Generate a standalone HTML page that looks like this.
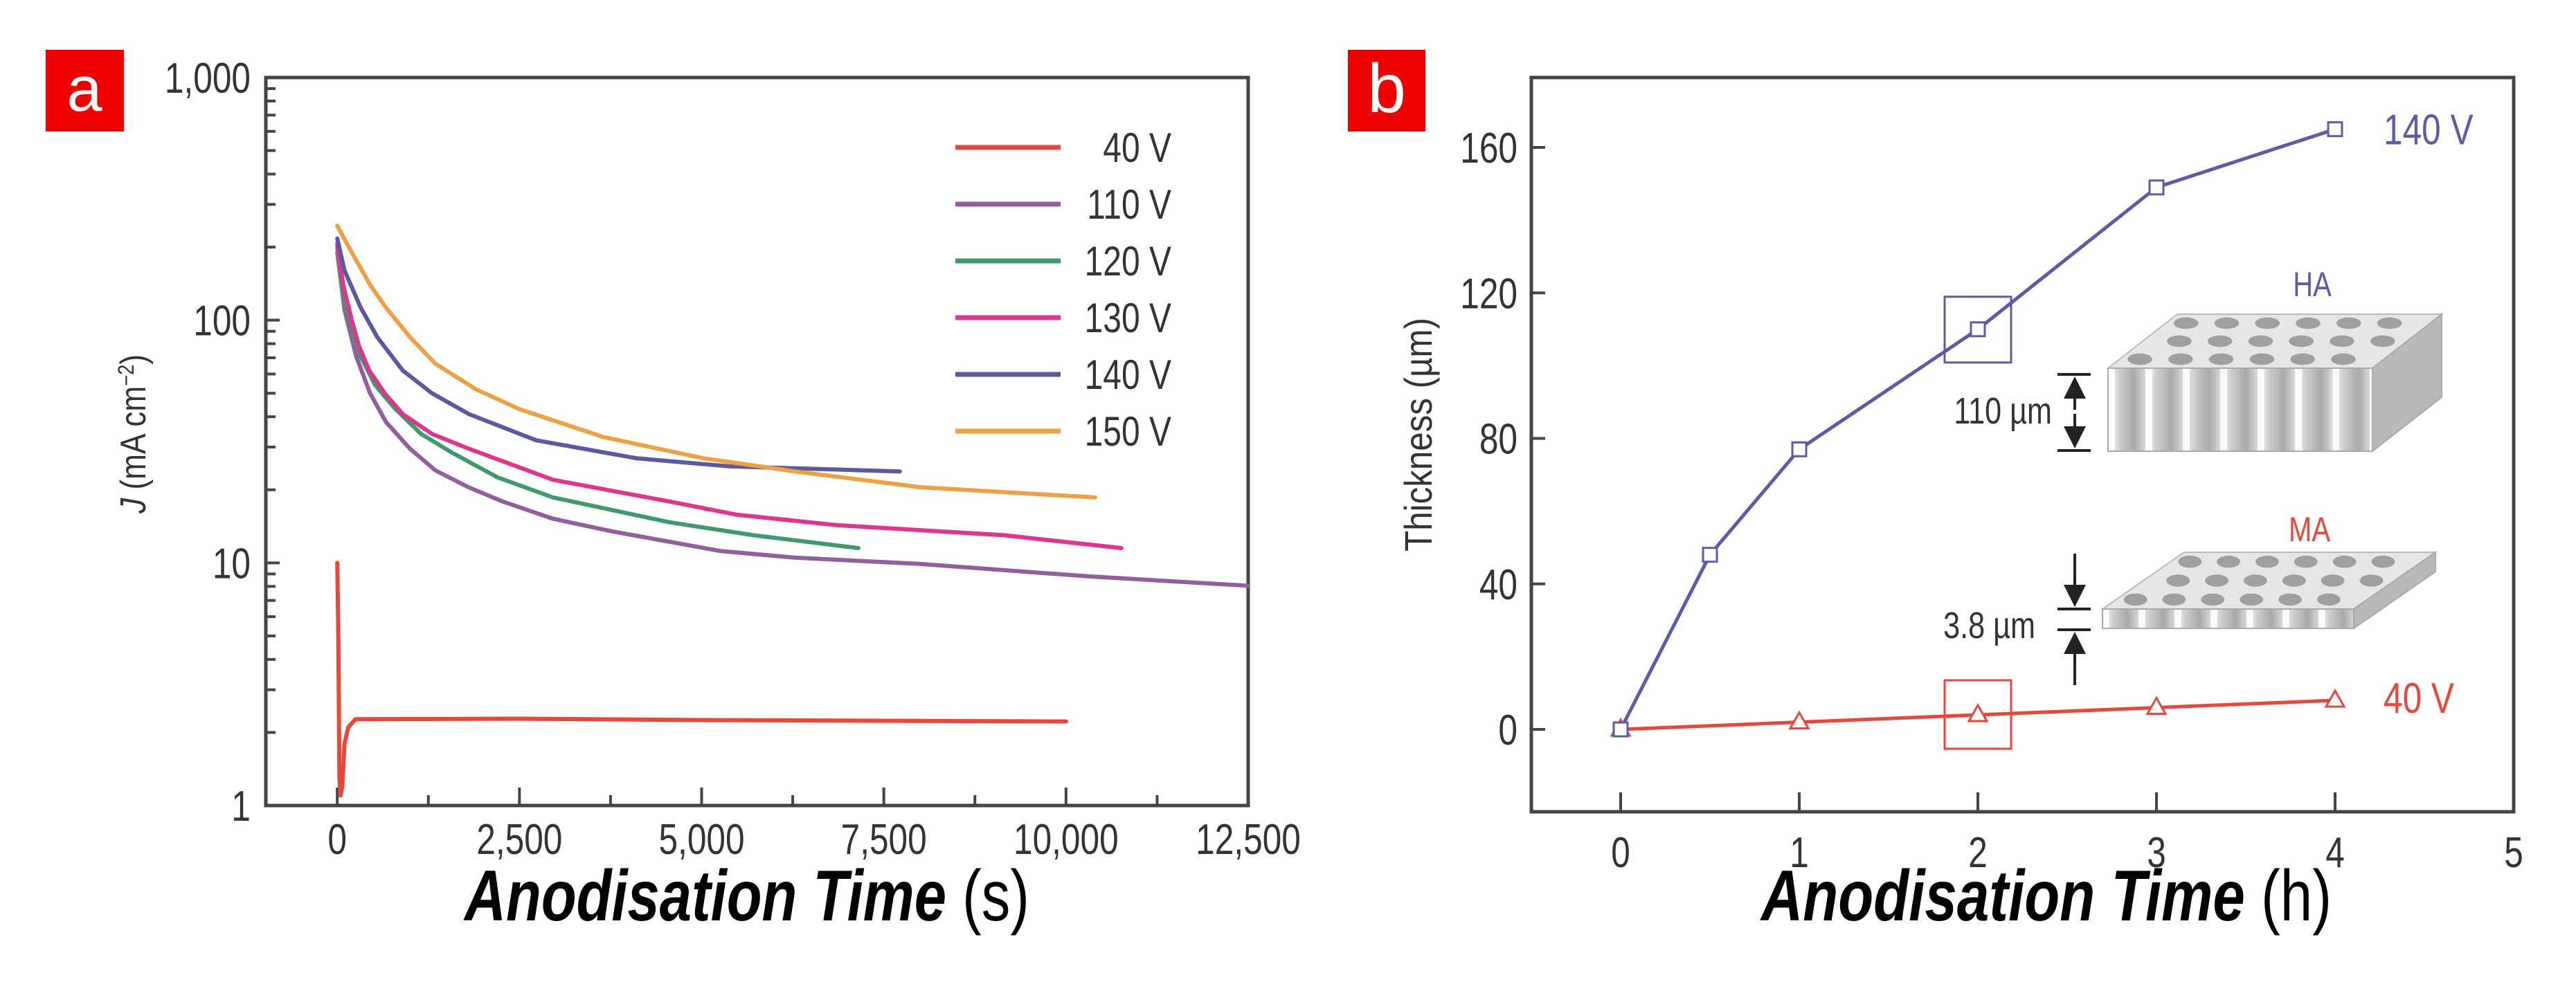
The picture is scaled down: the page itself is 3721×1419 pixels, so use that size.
<!DOCTYPE html>
<html><head><meta charset="utf-8"><style>
html,body{margin:0;padding:0;background:#fff;}
svg{display:block;}
text{font-family:"Liberation Sans Narrow","Liberation Sans",sans-serif;}
</style></head><body>
<svg id="fig" width="3721" height="1419" viewBox="0 0 3721 1419" xmlns="http://www.w3.org/2000/svg">
<defs>
<linearGradient id="colg" x1="0" x2="1" y1="0" y2="0">
<stop offset="0" stop-color="#f4f4f4"/><stop offset="0.35" stop-color="#c9c9c9"/><stop offset="0.7" stop-color="#a9a9a9"/><stop offset="1" stop-color="#d8d8d8"/>
</linearGradient>
<pattern id="cols" x="3045" y="0" width="54" height="10" patternUnits="userSpaceOnUse">
<rect width="54" height="10" fill="url(#colg)"/><rect x="0" width="10" height="10" fill="#fafafa"/>
</pattern>
<pattern id="cols2" x="3037" y="0" width="52" height="10" patternUnits="userSpaceOnUse">
<rect width="52" height="10" fill="url(#colg)"/><rect x="0" width="10" height="10" fill="#fafafa"/>
</pattern>
<marker id="arr" markerWidth="8" markerHeight="8" refX="7" refY="4" orient="auto" markerUnits="strokeWidth"><path d="M0,0 L8,4 L0,8 Z" fill="#222"/></marker>
</defs>
<g id="panelA"></g>
<g id="panelB"></g>
</svg>
<script>
// ---------- Panel a data ----------
const aXTicks = [0, 2500, 5000, 7500, 10000, 12500];
const aXTickLabels = ["0", "2,500", "5,000", "7,500", "10,000", "12,500"];
const aYTicks = [1, 10, 100, 1000];
const aYTickLabels = ["1", "10", "100", "1,000"];
const seriesNames = ["40 V", "110 V", "120 V", "130 V", "140 V", "150 V"];
const seriesColors = ["#e8483a", "#915f9f", "#3d9b6b", "#e0358b", "#5a5aa0", "#eea143"];
const t40 = [0, 15, 30, 45, 70, 100, 150, 250, 2500, 5000, 10000];
const j40 = [10, 5, 1.3, 1.1, 1.2, 1.8, 2.1, 2.27, 2.28, 2.25, 2.22];
const t110 = [0, 100, 260, 450, 670, 1000, 1350, 1800, 2270, 2960, 3760, 5250, 6290, 8000, 10300, 12500];
const j110 = [190, 110, 71, 50, 38, 29.5, 24, 20.5, 17.9, 15.2, 13.5, 11.2, 10.5, 9.9, 8.8, 8.05];
const t120 = [0, 100, 320, 520, 780, 1150, 1580, 2200, 2960, 4560, 5710, 7150];
const j120 = [200, 120, 71, 54, 43.6, 34, 28.4, 22.5, 18.6, 14.7, 13, 11.5];
const t130 = [0, 80, 200, 300, 440, 650, 900, 1300, 1810, 2960, 4560, 5480, 6860, 9150, 10760];
const j130 = [207, 140, 100, 78, 62, 50, 41, 34, 29.5, 22, 17.9, 15.8, 14.3, 13, 11.5];
const t140 = [0, 100, 320, 550, 900, 1300, 1810, 2730, 4100, 5370, 7720];
const j140 = [217, 160, 113, 85, 62, 50, 41, 32, 27, 25, 23.8];
const t150 = [0, 200, 450, 665, 1000, 1350, 1900, 2500, 3650, 5020, 6290, 8000, 10400];
const j150 = [245, 190, 140, 113, 85, 66, 52, 43, 33, 27, 23.8, 20.5, 18.6];

// ---------- Panel b data ----------
const bXTicks = [0, 1, 2, 3, 4, 5];
const bYTicks = [0, 40, 80, 120, 160];
const haX = [0, 0.5, 1, 2, 3, 4];
const haY = [0, 48, 77, 110, 149, 165];
const maX = [0, 1, 2, 3, 4];
const maY = [0, 2, 4, 6, 8];

const NS = "http://www.w3.org/2000/svg";
function mk(parent, tag, attrs, txt) {
  const e = document.createElementNS(NS, tag);
  for (const k in attrs) e.setAttribute(k, attrs[k]);
  if (txt !== undefined) e.textContent = txt;
  parent.appendChild(e);
  return e;
}
// narrow text: horizontally compressed
function ntext(parent, x, y, size, fill, anchor, str, sx) {
  return mk(parent, "text", {x: 0, y: 0, "font-size": size, fill: fill, "text-anchor": anchor,
    transform: `translate(${x},${y}) scale(${sx || 0.8},1)`}, str);
}
const A = document.getElementById("panelA");
const B = document.getElementById("panelB");

// ---- Panel a axes ----
const aL = 384, aR = 1803, aT = 112, aB = 1164;
const axMin = -980, axMax = 12500;
function ax(t) { return aL + (t - axMin) / (axMax - axMin) * (aR - aL); }
function ay(v) { return aB - Math.log10(v) / 3 * (aB - aT); }

let el;
el = mk(A, "rect", {x: 66, y: 72, width: 113, height: 118, fill: "#ee0000"});


el = mk(A, "text", {x: 122, y: 160, "font-size": 92, fill: "#fff", "text-anchor": "middle", "font-family": "Liberation Sans, sans-serif"}, "a");



el = mk(A, "rect", {x: aL, y: aT, width: aR - aL, height: aB - aT, fill: "none", stroke: "#444", "stroke-width": 5});



for (let d = 0; d < 3; d++) {
  for (let m = 2; m <= 9; m++) {
    const y = ay(m * Math.pow(10, d));
    el = mk(A, "line", {x1: aL, x2: aL + 14, y1: y, y2: y, stroke: "#444", "stroke-width": 4});
    
    
  }
}
aYTicks.forEach((v, i) => {
  const y = ay(v);
  el = mk(A, "line", {x1: aL, x2: aL + 20, y1: y, y2: y, stroke: "#444", "stroke-width": 4});
  
  
  el = ntext(A, 362, y + 22, 62, "#333", "end", aYTickLabels[i]);
  
  
});
aXTicks.forEach((v, i) => {
  const x = ax(v);
  if (i < aXTicks.length - 1) {
    el = mk(A, "line", {x1: x, x2: x, y1: aB, y2: aB - 26, stroke: "#444", "stroke-width": 4});
    
    
    el = mk(A, "line", {x1: ax(v + 1250), x2: ax(v + 1250), y1: aB, y2: aB - 15, stroke: "#444", "stroke-width": 4});
    
    
  }
  el = ntext(A, x, 1234, 62, "#333", "middle", aXTickLabels[i]);
  
  
});
el = mk(A, "text", {x: 0, y: 0, "font-size": 52, fill: "#333", "text-anchor": "middle", transform: "translate(210,627) rotate(-90) scale(0.85,1)"});


el.innerHTML = '<tspan font-style="italic">J</tspan> (mA cm<tspan baseline-shift="super" font-size="32">−2</tspan>)';
el = mk(A, "text", {x: 1079, y: 1330, "font-size": 104, fill: "#000", "text-anchor": "middle", "font-family": "Liberation Sans, sans-serif", textLength: 816, lengthAdjust: "spacingAndGlyphs"});


el.innerHTML = '<tspan font-weight="bold" font-style="italic">Anodisation Time</tspan> (s)';

const tArr = [t40, t110, t120, t130, t140, t150];
const jArr = [j40, j110, j120, j130, j140, j150];
const sNames = ["series-40v", "series-110v", "series-120v", "series-130v", "series-140v", "series-150v"];
tArr.forEach((ts, s) => {
  const pts = ts.map((t, i) => ax(t).toFixed(1) + "," + ay(jArr[s][i]).toFixed(1)).join(" ");
  el = mk(A, "polyline", {points: pts, fill: "none", stroke: seriesColors[s], "stroke-width": 6, "stroke-linejoin": "round", "stroke-linecap": "round"});
  
  
});
const legY0 = 213, legDY = 82;
seriesNames.forEach((n, i) => {
  const y = legY0 + i * legDY;
  el = mk(A, "line", {x1: 1380, x2: 1532, y1: y, y2: y, stroke: seriesColors[i], "stroke-width": 7});
  
  
  el = ntext(A, 1692, y + 21, 60, "#333", "end", n);
  
  
});

// ---- Panel b axes ----
const bL = 2212, bR = 3631, bT = 112, bB = 1173;
const bxMin = -0.5, bxMax = 5;
const y0px = 1054, y160px = 213;
function bx(v) { return bL + (v - bxMin) / (bxMax - bxMin) * (bR - bL); }
function by(v) { return y0px - v / 160 * (y0px - y160px); }

el = mk(B, "rect", {x: 1947, y: 72, width: 112, height: 118, fill: "#ee0000"});


el = mk(B, "text", {x: 2003, y: 162, "font-size": 100, fill: "#fff", "text-anchor": "middle", "font-family": "Liberation Sans, sans-serif"}, "b");



el = mk(B, "rect", {x: bL, y: bT, width: bR - bL, height: bB - bT, fill: "none", stroke: "#444", "stroke-width": 5});


bYTicks.forEach(v => {
  const y = by(v);
  el = mk(B, "line", {x1: bL, x2: bL + 20, y1: y, y2: y, stroke: "#444", "stroke-width": 4});
  
  
  el = ntext(B, 2192, y + 22, 62, "#333", "end", String(v));
  
  
});
bXTicks.forEach((v, i) => {
  const x = bx(v);
  if (i < bXTicks.length - 1) {
    el = mk(B, "line", {x1: x, x2: x, y1: bB, y2: bB - 28, stroke: "#444", "stroke-width": 4});
    
    
  }
  el = ntext(B, x, 1253, 62, "#333", "middle", String(v));
  
  
});
el = mk(B, "text", {x: 0, y: 0, "font-size": 56, fill: "#333", "text-anchor": "middle", transform: "translate(2068,628) rotate(-90) scale(0.88,1)"}, "Thickness (µm)");


el = mk(B, "text", {x: 2956, y: 1330, "font-size": 104, fill: "#000", "text-anchor": "middle", "font-family": "Liberation Sans, sans-serif", textLength: 824, lengthAdjust: "spacingAndGlyphs"});


el.innerHTML = '<tspan font-weight="bold" font-style="italic">Anodisation Time</tspan> (h)';

function block(g, x0, y0, w, h, dx, dy, pat, rows, cols) {
  mk(g, "polygon", {points: `${x0},${y0} ${x0+w},${y0} ${x0+w+dx},${y0-dy} ${x0+dx},${y0-dy}`, fill: "#e6e6e6", stroke: "#bbb", "stroke-width": 2});
  for (let r = 0; r < rows; r++) {
    for (let c = 0; c < cols; c++) {
      const fy = (r + 0.5) / rows;
      const cx = x0 + dx * (1 - fy) + (c + 0.5 + (r % 2) * 0.4) * (w / (cols + 0.5));
      const cy = y0 - dy * (1 - fy);
      mk(g, "ellipse", {cx: cx, cy: cy, rx: w / cols * 0.28, ry: dy / rows * 0.32, fill: "#9f9f9f"});
    }
  }
  mk(g, "polygon", {points: `${x0+w},${y0} ${x0+w+dx},${y0-dy} ${x0+w+dx},${y0-dy+h} ${x0+w},${y0+h}`, fill: "#b9b9b9", stroke: "#aaa", "stroke-width": 2});
  mk(g, "rect", {x: x0, y: y0, width: w, height: h, fill: pat, stroke: "#aaa", "stroke-width": 2});
}
const ill = mk(B, "g", {});


block(ill, 3045, 532, 382, 120, 100, 78, "url(#cols)", 3, 6);
const ill2 = mk(B, "g", {});


block(ill2, 3037, 880, 363, 28, 118, 82, "url(#cols2)", 3, 6);

const dim = mk(B, "g", {stroke: "#222", "stroke-width": 4, fill: "none"});


mk(dim, "line", {x1: 2972, x2: 3020, y1: 541, y2: 541});
mk(dim, "line", {x1: 2972, x2: 3020, y1: 651, y2: 651});
mk(dim, "line", {x1: 2997, x2: 2997, y1: 592, y2: 548, "marker-end": "url(#arr)"});
mk(dim, "line", {x1: 2997, x2: 2997, y1: 598, y2: 644, "marker-end": "url(#arr)"});
mk(dim, "line", {x1: 2972, x2: 3020, y1: 880, y2: 880});
mk(dim, "line", {x1: 2972, x2: 3020, y1: 910, y2: 910});
mk(dim, "line", {x1: 2997, x2: 2997, y1: 800, y2: 873, "marker-end": "url(#arr)"});
mk(dim, "line", {x1: 2997, x2: 2997, y1: 990, y2: 917, "marker-end": "url(#arr)"});
el = ntext(B, 2964, 612, 54, "#333", "end", "110 µm");


el = ntext(B, 2940, 922, 54, "#333", "end", "3.8 µm");


el = ntext(B, 3340, 428, 50, "#5b5ba8", "middle", "HA");


el = ntext(B, 3336, 782, 50, "#e8483a", "middle", "MA");



el = mk(B, "rect", {x: bx(2) - 48, y: by(haY[3]) - 47, width: 96, height: 95, fill: "none", stroke: "#5b5ba8", "stroke-width": 3});


el = mk(B, "rect", {x: bx(2) - 48, y: by(maY[2]) - 50, width: 96, height: 99, fill: "none", stroke: "#e8483a", "stroke-width": 3});



el = mk(B, "polyline", {points: maX.map((v, i) => bx(v).toFixed(1) + "," + by(maY[i]).toFixed(1)).join(" "), fill: "none", stroke: "#e8483a", "stroke-width": 5});


el = mk(B, "polyline", {points: haX.map((v, i) => bx(v).toFixed(1) + "," + by(haY[i]).toFixed(1)).join(" "), fill: "none", stroke: "#5b5ba8", "stroke-width": 5});


maX.forEach((v, i) => {
  const x = bx(v), y = by(maY[i]);
  el = mk(B, "polygon", {points: `${x},${y-14} ${x-13},${y+9} ${x+13},${y+9}`, fill: "#fff", stroke: "#e8483a", "stroke-width": 3});
  
  
});
haX.forEach((v, i) => {
  const x = bx(v), y = by(haY[i]);
  el = mk(B, "rect", {x: x - 10, y: y - 10, width: 20, height: 20, fill: "#fff", stroke: "#5b5ba8", "stroke-width": 3});
  
  
});
el = ntext(B, 3443, by(haY[5]) + 22, 62, "#5b5ba8", "start", "140 V");


el = ntext(B, 3443, by(maY[4]) + 18, 62, "#e8483a", "start", "40 V");


</script>
</body></html>
